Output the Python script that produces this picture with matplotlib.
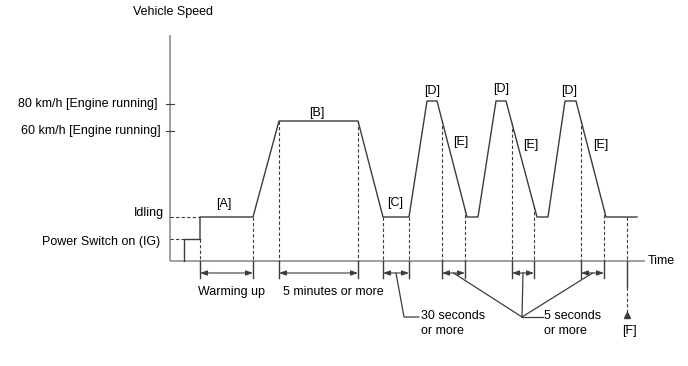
import numpy as np
import matplotlib
matplotlib.use('Agg')
import matplotlib.pyplot as plt

plt.rcParams['font.family'] = ['Liberation Sans', 'DejaVu Sans']

# ---- data (diagram units: time to the right of the speed axis, level above time axis) ----
ig_time = 14
ig_level = 22
idle_level = 44
b_level = 140
d_level = 160

# speed profile breakpoints
prof_t = [30, 30, 83, 109, 188, 213, 239, 257, 267, 297, 308, 326, 336, 367, 378, 395, 406, 436, 467]
prof_v = [ig_level, idle_level, idle_level, b_level, b_level, idle_level, idle_level,
          d_level, d_level, idle_level, idle_level, d_level, d_level, idle_level, idle_level,
          d_level, d_level, idle_level, idle_level]

# marker times (dashed drop lines) and dimension pairs
mark_t = [30, 83, 109, 188, 213, 239, 272, 295, 342, 364, 411, 434]
dim_pairs = [(30, 83), (109, 188), (213, 239), (272, 295), (342, 364), (411, 434)]
dim_labels = ['Warming up', '5 minutes or more']
f_time = 457

speed_ticks = [157, 130]
speed_tick_labels = ['80 km/h [Engine running]', '60 km/h [Engine running]']
phase_labels = ['[A]', '[B]', '[C]', '[D]', '[D]', '[D]', '[E]', '[E]', '[E]']
phase_pos = [(54, 57), (147, 148), (225, 58), (262, 170), (331, 172), (399, 170),
             (291, 119), (361, 116), (431, 116)]

LINE = '#3c3c3c'
AXIS = '#8f8f8f'
FS = 9

fig = plt.figure(figsize=(6.88, 3.66), dpi=100)
ax = fig.add_axes([0, 0, 1, 1])
ax.set_xlim(-170, 518)
ax.set_ylim(-105, 261)
ax.axis('off')

# axes
ax.plot([0, 475], [0, 0], color=AXIS, lw=1.2, solid_capstyle='butt')
ax.plot([0, 0], [0, 226], color=AXIS, lw=1.2, solid_capstyle='butt')
for y in speed_ticks:
    ax.plot([-4, 4], [y, y], color=LINE, lw=0.8)

# power switch step and speed profile
ax.plot([ig_time, ig_time, 30], [0, ig_level, ig_level], color=LINE, lw=1.0)
ax.plot(prof_t, prof_v, color=LINE, lw=1.0)
ax.plot([0, ig_time], [ig_level, ig_level], color=LINE, lw=0.8, dashes=(3, 2))
ax.plot([0, 30], [idle_level, idle_level], color=LINE, lw=0.8, dashes=(3, 2))

# dashed drop lines + ticks below time axis
for t in mark_t:
    top = np.interp(t, prof_t[1:], prof_v[1:])
    if t == 30:
        top = ig_level
    ax.plot([t, t], [top, 0], color=LINE, lw=0.8, dashes=(3, 2))
    ax.plot([t, t], [0, -17], color=LINE, lw=1.0)

# dimension arrows
arrow = dict(arrowstyle='<|-|>,head_length=0.7,head_width=0.25', color=LINE, lw=0.8,
             shrinkA=0, shrinkB=0, mutation_scale=6)
for t0, t1 in dim_pairs:
    ax.annotate('', xy=(t1, -12), xytext=(t0, -12), arrowprops=arrow)

for (t0, t1), lab in zip(dim_pairs[:2], dim_labels):
    ax.text((t0 + t1) / 2 + (5 if lab[0] == 'W' else 15), -31, lab, fontsize=FS,
            ha='center', va='center')

# leader: 30 seconds
c0, c1 = dim_pairs[2]
ax.plot([(c0 + c1) / 2, 234, 249], [-12, -56, -56], color=LINE, lw=0.9)
ax.text(251, -55, '30 seconds', fontsize=FS, ha='left', va='center')
ax.text(251, -70, 'or more', fontsize=FS, ha='left', va='center')

# leader: 5 seconds
for t0, t1 in dim_pairs[3:]:
    ax.plot([(t0 + t1) / 2, 352], [-12, -56], color=LINE, lw=0.9)
ax.plot([352, 373], [-56, -56], color=LINE, lw=0.9)
ax.text(374, -55, '5 seconds', fontsize=FS, ha='left', va='center')
ax.text(374, -70, 'or more', fontsize=FS, ha='left', va='center')

# [F] marker
ax.plot([f_time, f_time], [idle_level, 0], color=LINE, lw=0.8, dashes=(3, 2))
ax.plot([f_time, f_time], [0, -26], color=LINE, lw=1.0)
ax.plot([f_time, f_time], [-26, -55], color=LINE, lw=0.8, dashes=(3, 2))
ax.plot([f_time], [-54], marker='^', color=LINE, markersize=4)
ax.text(f_time + 2, -70, '[F]', fontsize=FS, ha='center', va='center')

# labels
ax.text(3, 249, 'Vehicle Speed', fontsize=FS, ha='center', va='center')
ax.text(-12, 157, speed_tick_labels[0], fontsize=FS, ha='right', va='center')
ax.text(-9, 130, speed_tick_labels[1], fontsize=FS, ha='right', va='center')
ax.text(-6, 48, 'Idling', fontsize=FS, ha='right', va='center')
ax.text(-10, 19, 'Power Switch on (IG)', fontsize=FS, ha='right', va='center')
ax.text(478, 0, 'Time', fontsize=FS, ha='left', va='center')
for lab, (x, y) in zip(phase_labels, phase_pos):
    ax.text(x, y, lab, fontsize=FS, ha='center', va='center')

fig.savefig('out.png', dpi=100, facecolor='white')
